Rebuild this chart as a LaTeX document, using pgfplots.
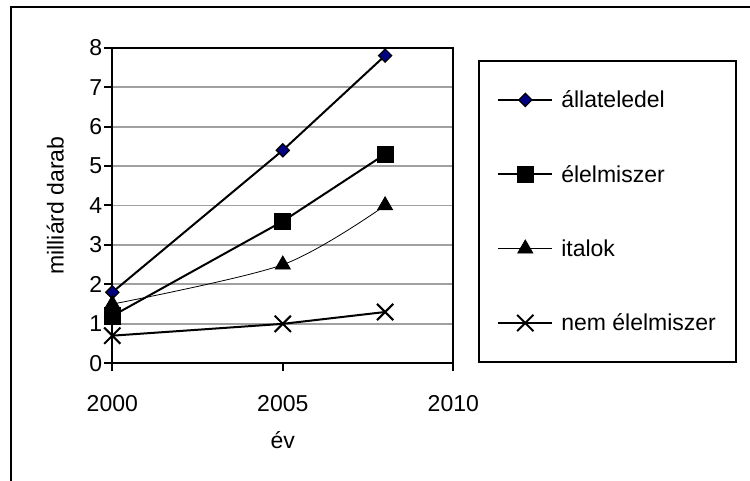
\documentclass[border=0pt]{standalone}
\usepackage{fontspec}
\setmainfont{Liberation Sans}
\usepackage{pgfplots}
\pgfplotsset{compat=1.18}
\newcommand{\ff}{\fontsize{23}{27}\selectfont}
\definecolor{navy}{RGB}{0,0,128}
\definecolor{gridgray}{RGB}{160,160,160}
\begin{document}
\begin{tikzpicture}
\useasboundingbox (0pt,0pt) rectangle (750pt,481pt);
\clip (0pt,0pt) rectangle (750pt,481pt);
\draw[line width=2.2pt] (10.7pt,473.7pt) rectangle (800pt,-40pt);
\begin{axis}[
  at={(112.3pt,117.7pt)}, anchor=south west,
  width=341pt, height=315.6pt, scale only axis,
  xmin=2000, xmax=2010, ymin=0, ymax=8,
  xtick={2000,2005,2010}, ytick={0,1,...,8},
  /pgf/number format/1000 sep={},
  /pgf/number format/assume math mode=true,
  tick label style={font=\ff},
  xticklabel style={inner sep=0pt, anchor=north, yshift=-24pt},
  yticklabel style={inner sep=0pt, anchor=east, xshift=-2pt},
  axis line style={line width=2pt},
  tick style={line width=2pt, black},
  tick align=outside, major tick length=8pt,
  xtick pos=bottom, ytick pos=left,
  ymajorgrids, grid style={line width=1.8pt, gridgray},
  xlabel={év}, ylabel={milliárd darab},
  xlabel style={font=\ff, inner sep=0pt, at={(axis description cs:0.5,-0.2693)}, anchor=base},
  ylabel style={font=\ff, inner sep=0pt, at={(axis description cs:-0.1416,0.5)}, anchor=south},
  legend style={at={(axis description cs:1.0733,0.9556)}, anchor=north west,
    draw=black, line width=2pt, font=\ff, inner xsep=18pt, inner ysep=28pt,
    row sep=52pt, column sep=6pt, cells={anchor=west}, yshift=2pt},
  legend image code/.code={\draw[mark repeat=2,mark phase=2,#1] plot coordinates {(0pt,0pt) (27pt,0pt) (54pt,0pt)};},
]
\addplot[black, line width=2pt, mark=diamond*, mark size=6.6pt,
  mark options={fill=navy, draw=black, line width=1.2pt, xscale=1.33}]
  coordinates {(2000,1.8) (2005,5.4) (2008,7.8)};
\addlegendentry{állateledel}
\addplot[black, line width=2pt, mark=square*, mark size=7.6pt,
  mark options={fill=black}]
  coordinates {(2000,1.2) (2005,3.6) (2008,5.3)};
\addlegendentry{élelmiszer}
\addplot[black, line width=0.8pt, smooth, mark=triangle*, mark size=8.7pt,
  mark options={fill=black}]
  coordinates {(2000,1.5) (2005,2.5) (2008,4.0)};
\addlegendentry{italok}
\addplot[black, line width=2pt, mark=x, mark size=11.5pt,
  mark options={line width=2pt}]
  coordinates {(2000,0.7) (2005,1.0) (2008,1.3)};
\addlegendentry{nem élelmiszer}
\end{axis}
\end{tikzpicture}
\end{document}
